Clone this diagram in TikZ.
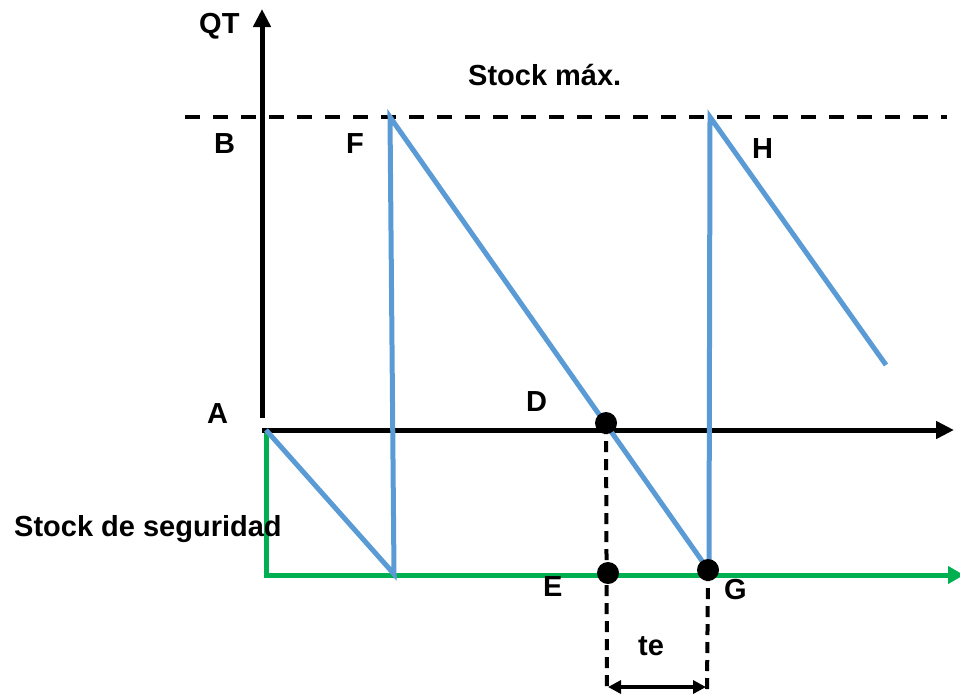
\documentclass[tikz,border=0pt]{standalone}
\usepackage{fontspec}
\setmainfont{Liberation Sans}
\usetikzlibrary{arrows.meta}
\definecolor{lineblue}{HTML}{5B9BD5}
\definecolor{safegreen}{HTML}{00B050}
\begin{document}
\begin{tikzpicture}[x=1pt,y=-1pt,
  lbl/.style={font=\fontsize{29}{34}\selectfont\bfseries, inner sep=0pt, anchor=base west},
  axisline/.style={line width=5pt, black},
  sawline/.style={line width=5pt, lineblue},
  greenline/.style={line width=5pt, safegreen},
  dashline/.style={line width=4pt, black, dash pattern=on 15pt off 13pt},
  vdash/.style={line width=4pt, black, dash pattern=on 11pt off 7pt},
  dot/.style={circle, fill=black, inner sep=0pt, minimum size=22pt},
  bigtip/.style={-{Triangle[length=18pt,width=17pt]}},
]
\useasboundingbox (0,0) rectangle (960,694);

% coordinates
\coordinate (vbot) at (262,418);
\coordinate (vtop) at (262,9);
\coordinate (hstart) at (262,430);
\coordinate (hend) at (954,430);
\coordinate (dl) at (185,117);
\coordinate (dr) at (947,117);
\coordinate (Acorner) at (266,430);
\coordinate (gcorner) at (266,575);
\coordinate (gend) at (964,575);
\coordinate (P1) at (394,574);
\coordinate (Ftop) at (390,117);
\coordinate (P2) at (707,568);
\coordinate (P3) at (709,568);
\coordinate (Htop) at (710,117);
\coordinate (Hend) at (886,365);
\coordinate (dDbot) at (607,690);
\coordinate (dGbot) at (707,690);
\coordinate (teL) at (608,687);
\coordinate (teR) at (706,687);

% dashed stock max line
\draw[dashline] (dl) -- (dr);

% green safety stock line
\draw[greenline, line join=miter, -{Triangle[length=16pt,width=17pt]}] (Acorner) -- (gcorner) -- (gend);

% axes
\draw[axisline, bigtip] (vbot) -- (vtop);
\draw[axisline, bigtip] (hstart) -- (hend);

% sawtooth
\draw[sawline] (Acorner) -- (P1) -- (Ftop) -- (P2);
\draw[sawline] (P3) -- (Htop) -- (Hend);

% dots
\node[dot] (Ddot) at (606,423) {};
\node[dot] (Edot) at (608,573) {};
\node[dot] (Gdot) at (708,570) {};

% vertical dashed lines
\draw[vdash] (Ddot.center) -- (dDbot);
\draw[vdash] (Gdot.center) -- (dGbot);

% te arrow
\draw[line width=4pt, {Triangle[length=13pt,width=13pt]}-{Triangle[length=13pt,width=13pt]}] (teL) -- (teR);

% labels
\node[lbl] (QT) at (199,33) {QT};
\node[lbl] (smax) at (468,85) {Stock máx.};
\node[lbl] (B) at (214,153) {B};
\node[lbl] (F) at (346,153) {F};
\node[lbl] (H) at (752,158) {H};
\node[lbl] (A) at (207,423) {A};
\node[lbl] (D) at (526,411) {D};
\node[lbl] (sseg) at (14,536) {Stock de seguridad};
\node[lbl] (E) at (543,596) {E};
\node[lbl] (G) at (724,599) {G};
\node[lbl] (te) at (638,655) {te};
\end{tikzpicture}
\end{document}
